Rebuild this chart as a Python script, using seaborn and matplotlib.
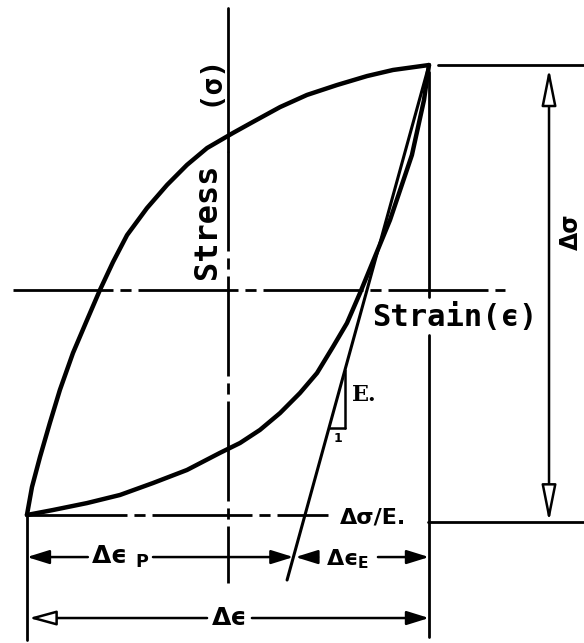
import matplotlib
matplotlib.use("Agg")
import matplotlib.pyplot as plt
import seaborn as sns

# Stable hysteresis loop, normalised so the loop tips sit at (+-1, +-1)
upper_strain = [-1.0, -0.975, -0.935, -0.886, -0.836, -0.771, -0.701, -0.637,
                -0.572, -0.502, -0.403, -0.303, -0.204, -0.104, 0.025, 0.124,
                0.259, 0.393, 0.542, 0.692, 0.821, 1.0]
upper_stress = [-1.0, -0.876, -0.742, -0.591, -0.444, -0.28, -0.133, 0.0,
                0.124, 0.244, 0.364, 0.467, 0.556, 0.631, 0.698, 0.747,
                0.813, 0.867, 0.911, 0.951, 0.978, 1.0]
lower_strain = [-1.0, -0.871, -0.701, -0.537, -0.373, -0.204, -0.04, 0.06,
                0.159, 0.259, 0.358, 0.443, 0.522, 0.592, 0.657, 0.806,
                0.915, 0.975, 1.0]
lower_stress = [-1.0, -0.978, -0.947, -0.911, -0.858, -0.8, -0.724, -0.68,
                -0.622, -0.547, -0.458, -0.369, -0.253, -0.147, -0.013, 0.311,
                0.6, 0.844, 1.0]

# Elastic unloading line from the peak (slope = E)
elastic_strain = [1.0, 0.294]
elastic_stress = [1.0, -1.289]

# Loop extremes
strain_max, strain_min = 1.0, -1.0
stress_max, stress_min = 1.0, -1.0

E = (elastic_stress[0] - elastic_stress[1]) / (elastic_strain[0] - elastic_strain[1])

sns.set_theme(style="white")
plt.rcParams["mathtext.default"] = "regular"

fig = plt.figure(figsize=(5.84, 6.43), dpi=100)
ax = fig.add_axes([0, 0, 1, 1])
ax.set_xlim(-1.134, 1.771)
ax.set_ylim(-1.569, 1.289)
ax.axis("off")

ink = "black"
dashdot = (0, (36, 2.5, 4, 2.5))

# Loop branches
sns.lineplot(x=upper_strain, y=upper_stress, sort=False, estimator=None,
             color=ink, lw=3.2, ax=ax)
sns.lineplot(x=lower_strain, y=lower_stress, sort=False, estimator=None,
             color=ink, lw=3.2, ax=ax)
sns.lineplot(x=elastic_strain, y=elastic_stress, sort=False, estimator=None,
             color=ink, lw=2.2, ax=ax)

# Stress and strain axes
ax.plot([0, 0], [1.253, 0.62], color=ink, lw=2.0)
ax.plot([0, 0], [0.62, -1.302], color=ink, lw=2.0, linestyle=dashdot)
ax.plot([-1.07, 1.378], [0, 0], color=ink, lw=2.0, linestyle=dashdot)

# Extension lines
ax.plot([1.045, 1.771], [stress_max, stress_max], color=ink, lw=2.0)
ax.plot([strain_min, 0.5], [stress_min, stress_min], color=ink, lw=2.0,
        linestyle=dashdot)
ax.plot([0.995, 1.771], [-1.031, -1.031], color=ink, lw=2.0)
ax.plot([strain_max, strain_max], [0.969, -0.031], color=ink, lw=2.0)
ax.plot([strain_max, strain_max], [-0.2, -1.542], color=ink, lw=2.0)
ax.plot([strain_min, strain_min], [stress_min, -1.556], color=ink, lw=2.0)

# Slope triangle on the elastic line
x_leg = 0.582
y_top = stress_max - E * (strain_max - x_leg)
y_bot = -0.613
x_hor = strain_max - (stress_max - y_bot) / E
ax.plot([x_leg, x_leg], [y_top, y_bot], color=ink, lw=1.8)
ax.plot([x_hor, x_leg], [y_bot, y_bot], color=ink, lw=1.8)
ax.text(0.617, -0.467, "E.", fontsize=16, fontweight="bold",
        family="DejaVu Serif", ha="left", va="center", color=ink)
ax.text(0.547, -0.66, "1", fontsize=9, fontweight="bold",
        ha="center", va="center", color=ink)

# Axis labels
mono = ["DejaVu Sans Mono", "DejaVu Sans"]
ax.text(-0.104, 0.307, "Stress", rotation=90, fontsize=23, fontweight="bold",
        family=mono, ha="center", va="center", color=ink)
ax.text(-0.09, 0.933, "(σ)", rotation=90, fontsize=21, fontweight="bold",
        family=mono, ha="center", va="center", color=ink)
ax.text(0.716, -0.124, "Strain(ϵ)", fontsize=22, fontweight="bold",
        family=mono, ha="left", va="center", color=ink)

# Stress range arrow
hollow = dict(arrowstyle="<|-|>,head_length=1.5,head_width=0.3",
              mutation_scale=15, fc="white", ec=ink, lw=1.8,
              shrinkA=0, shrinkB=0)
x_ds = 1.597
ax.annotate("", xy=(x_ds, stress_max - 0.015), xytext=(x_ds, -1.031),
            arrowprops=hollow)
ax.text(1.708, 0.258, "Δσ", rotation=90, fontsize=17, fontweight="bold",
        ha="center", va="center", color=ink)

# Strain range dimension lines
solid_head = dict(arrowstyle="-|>,head_length=0.9,head_width=0.28",
                  mutation_scale=15, fc=ink, ec=ink, lw=1.8,
                  shrinkA=0, shrinkB=0)
open_head = dict(arrowstyle="-|>,head_length=1.1,head_width=0.3",
                 mutation_scale=15, fc="white", ec=ink, lw=1.8,
                 shrinkA=0, shrinkB=0)

y_p = -1.187
x_split = strain_max - (stress_max - y_p) / E
ax.annotate("", xy=(strain_min, y_p), xytext=(-0.697, y_p), arrowprops=solid_head)
ax.annotate("", xy=(x_split, y_p), xytext=(-0.373, y_p), arrowprops=solid_head)
ax.text(-0.537, y_p, "Δϵ $_{P}$", fontsize=18, fontweight="bold",
        ha="center", va="center", color=ink)

ax.annotate("", xy=(x_split + 0.01, y_p), xytext=(0.448, y_p), arrowprops=solid_head)
ax.annotate("", xy=(strain_max, y_p), xytext=(0.746, y_p), arrowprops=solid_head)
ax.text(0.597, y_p - 0.01, "Δϵ$_{E}$", fontsize=16, fontweight="bold",
        ha="center", va="center", color=ink)

y_t = -1.458
ax.annotate("", xy=(strain_min + 0.01, y_t), xytext=(-0.104, y_t), arrowprops=open_head)
ax.annotate("", xy=(strain_max, y_t), xytext=(0.119, y_t), arrowprops=solid_head)
ax.text(0.01, y_t, "Δϵ", fontsize=18, fontweight="bold",
        ha="center", va="center", color=ink)

ax.text(0.721, -1.009, "Δσ/E.", fontsize=16, fontweight="bold",
        ha="center", va="center", color=ink)

fig.savefig("out.png", dpi=100, facecolor="white")
